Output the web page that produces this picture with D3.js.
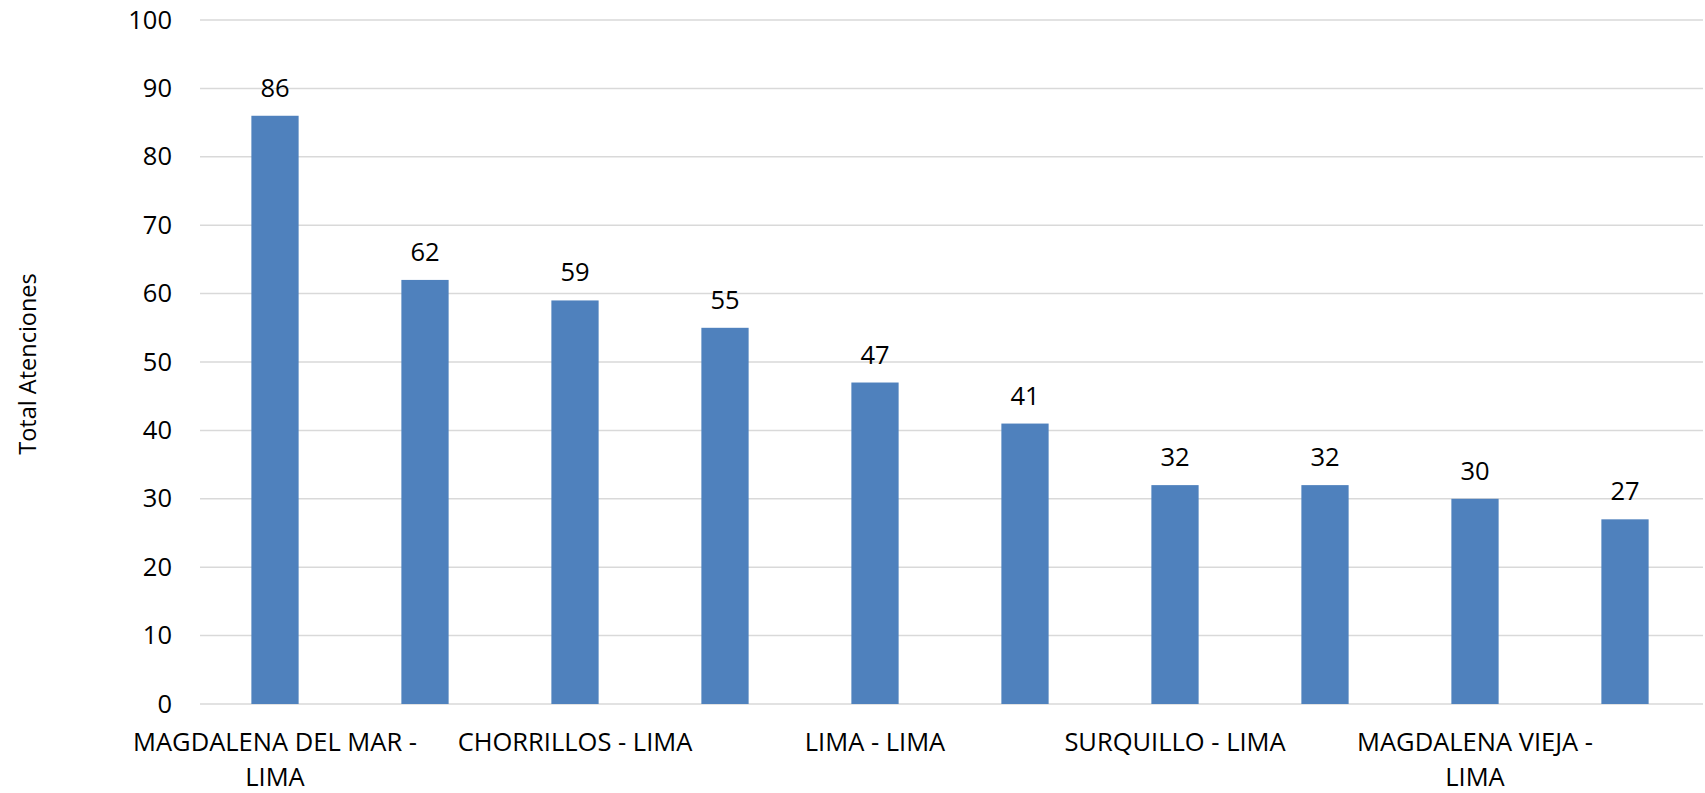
<!DOCTYPE html>
<html>
<head>
<meta charset="utf-8">
<script src="https://cdn.jsdelivr.net/npm/d3@7"></script>
<style>
  html, body { margin: 0; padding: 0; background: #fff; }
  svg { display: block; font-family: "Open Sans", sans-serif; }
</style>
</head>
<body>
<svg id="chart" width="1705" height="793"></svg>
<script>
// ---- data ----
const categories = [
  "MAGDALENA DEL MAR - LIMA", "Distrito 2",
  "CHORRILLOS - LIMA", "Distrito 4",
  "LIMA - LIMA", "Distrito 6",
  "SURQUILLO - LIMA", "Distrito 8",
  "MAGDALENA VIEJA - LIMA", "Distrito 10"
];
const values = [86, 62, 59, 55, 47, 41, 32, 32, 30, 27];
const shownLabelIndices = [0, 2, 4, 6, 8];
const yTicks = [0, 10, 20, 30, 40, 50, 60, 70, 80, 90, 100];
const yTitle = "Total Atenciones";

(function () {
// ---- layout ----
const svg = d3.select("#chart");
const mLeft = 200, mRight = 1700, mTop = 20, mBottom = 704;

const x = d3.scaleBand().domain(categories).range([mLeft, mRight])
  .paddingInner(0.685).paddingOuter(0.3425);
const y = d3.scaleLinear().domain([0, 100]).range([mBottom, mTop]);

// gridlines
svg.append("g").selectAll("line").data(yTicks).join("line")
  .attr("x1", mLeft).attr("x2", 1703)
  .attr("y1", d => y(d)).attr("y2", d => y(d))
  .attr("stroke", "#d9d9d9").attr("stroke-width", 1.5);

// bars
svg.append("g").selectAll("rect").data(values).join("rect")
  .attr("x", (d, i) => x(categories[i]))
  .attr("width", x.bandwidth())
  .attr("y", d => y(d))
  .attr("height", d => y(0) - y(d))
  .attr("fill", "#4F81BD");

// value labels
svg.append("g").selectAll("text").data(values).join("text")
  .attr("x", (d, i) => x(categories[i]) + x.bandwidth() / 2)
  .attr("y", d => y(d) - 19)
  .attr("text-anchor", "middle")
  .attr("font-size", 25.5)
  .attr("fill", "#000")
  .text(d => d);

// y axis
const yAxis = svg.append("g").attr("transform", `translate(${mLeft},0)`)
  .call(d3.axisLeft(y).tickValues(yTicks).tickSize(0).tickPadding(28));
yAxis.select(".domain").remove();
yAxis.selectAll("text")
  .attr("font-size", 25.5).attr("fill", "#000")
  .attr("font-family", "Open Sans, sans-serif");

// x axis
const xAxis = svg.append("g").attr("transform", `translate(0,${mBottom})`)
  .call(d3.axisBottom(x).tickSize(0)
    .tickFormat((d, i) => shownLabelIndices.includes(i) ? d : ""));
xAxis.select(".domain").remove();
xAxis.selectAll("text")
  .attr("font-size", 25.5).attr("fill", "#000")
  .attr("font-family", "Open Sans, sans-serif")
  .attr("y", 47).attr("dy", 0)
  .each(function() {
    const t = d3.select(this);
    const words = t.text().split(/\s+/).filter(w => w.length);
    t.text(null);
    const maxW = 300;
    let line = [];
    let tspan = t.append("tspan").attr("x", 0).attr("y", 47);
    let lineNo = 0;
    for (const w of words) {
      line.push(w);
      tspan.text(line.join(" "));
      if (tspan.node().getComputedTextLength() > maxW && line.length > 1) {
        line.pop();
        tspan.text(line.join(" "));
        line = [w];
        lineNo++;
        tspan = t.append("tspan").attr("x", 0).attr("y", 47 + lineNo * 35).text(w);
      }
    }
  });

// y title
svg.append("text")
  .attr("transform", `translate(27,${(mTop + mBottom) / 2 + 2}) rotate(-90)`)
  .attr("text-anchor", "middle")
  .attr("dominant-baseline", "central")
  .attr("font-size", 23.5)
  .attr("fill", "#000")
  .text(yTitle);
})();
</script>
</body>
</html>
